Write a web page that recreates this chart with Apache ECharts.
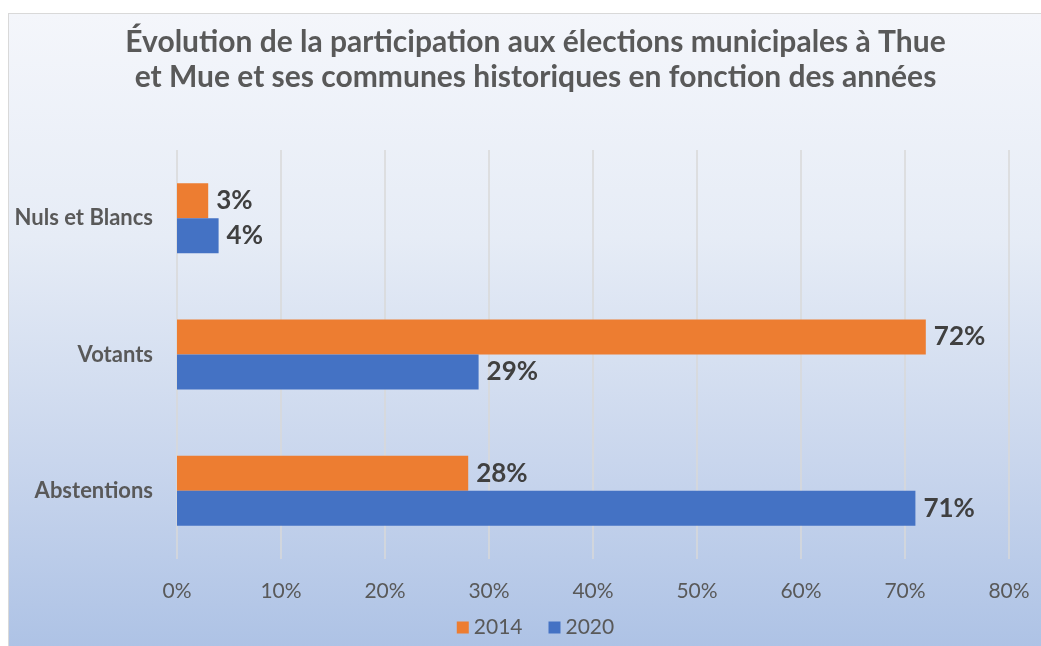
<!DOCTYPE html>
<html>
<head>
<meta charset="utf-8">
<script src="https://cdn.jsdelivr.net/npm/echarts@6/dist/echarts.min.js"></script>
<style>
  html, body { margin: 0; padding: 0; background: #ffffff; overflow: hidden; width: 1041px; height: 646px; }
  #frame {
    position: absolute; left: 8px; top: 13px; width: 1053px; height: 640px;
    border: 1px solid #d9d9d9; box-sizing: border-box;
    background: linear-gradient(to bottom, #f4f6fb 0%, #e6ecf6 35%, #c9d6ed 70%, #adc2e5 100%);
  }
  #chart { width: 1053px; height: 640px; }
</style>
</head>
<body>
<div id="frame"><div id="chart"></div></div>
<script>
// Categories listed bottom to top along the vertical axis
const categories = ['Abstentions', 'Votants', 'Nuls et Blancs'];
const years = ['2014', '2020'];
const values2014 = [28, 72, 3];
const values2020 = [71, 29, 4];
const xTicks = [0, 10, 20, 30, 40, 50, 60, 70, 80];

const chart = echarts.init(document.getElementById('chart'), null, { renderer: 'canvas' });

const labelStyle = {
  show: true,
  position: 'right',
  distance: 8,
  formatter: p => p.value + '%',
  color: '#404040',
  fontSize: 26,
  fontWeight: 'bold',
  fontFamily: 'Lato'
};

chart.setOption({
  backgroundColor: 'transparent',
  title: {
    text: 'Évolution de la participation aux élections municipales à Thue\net Mue et ses communes historiques en fonction des années',
    left: 'center',
    top: 6,
    textStyle: {
      color: '#595959',
      fontSize: 30,
      fontWeight: 'bold',
      fontFamily: 'Lato',
      lineHeight: 35,
      align: 'center'
    }
  },
  legend: {
    data: years,
    bottom: 11,
    left: 'center',
    itemWidth: 12,
    itemHeight: 12,
    itemGap: 26,
    icon: 'rect',
    textStyle: { color: '#595959', fontSize: 21, fontFamily: 'Lato' }
  },
  grid: { left: 168, right: 53, top: 136, bottom: 95, containLabel: false },
  xAxis: {
    type: 'value',
    min: xTicks[0],
    max: xTicks[xTicks.length - 1],
    interval: 10,
    axisLine: { show: false },
    axisTick: { show: false },
    splitLine: { show: true, lineStyle: { color: '#d9d9d9', width: 1.5 } },
    axisLabel: {
      margin: 22,
      formatter: v => v + '%',
      color: '#595959',
      fontSize: 21,
      fontFamily: 'Lato'
    }
  },
  yAxis: {
    type: 'category',
    data: categories,
    axisLine: { show: false },
    axisTick: { show: false },
    axisLabel: {
      margin: 24,
      color: '#595959',
      fontSize: 22,
      fontWeight: 'bold',
      fontFamily: 'Lato'
    }
  },
  series: [
    {
      name: '2014',
      type: 'bar',
      data: values2014,
      barWidth: 35,
      barGap: '0%',
      itemStyle: { color: '#ed7d31' },
      label: labelStyle
    },
    {
      name: '2020',
      type: 'bar',
      data: values2020,
      barWidth: 35,
      barGap: '0%',
      itemStyle: { color: '#4472c4' },
      label: labelStyle
    }
  ]
});
</script>
</body>
</html>
